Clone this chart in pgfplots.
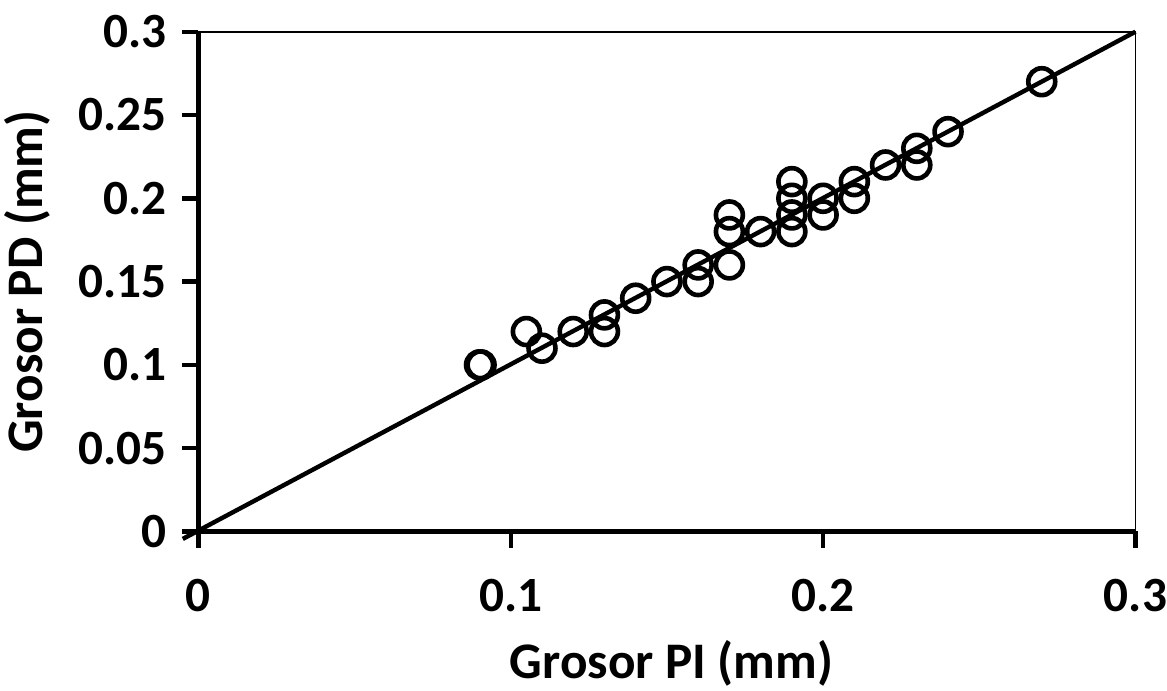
\documentclass[border=0pt]{standalone}
\usepackage{fontspec}
\setmainfont{Carlito}
\usepackage{pgfplots}
\pgfplotsset{compat=1.18}
\begin{document}
\fontsize{23}{27}\selectfont\bfseries
\begin{tikzpicture}
\begin{axis}[
  scale only axis,
  width=466pt, height=248.5pt,
  xmin=0, xmax=0.3, ymin=0, ymax=0.3,
  xtick={0,0.1,0.2,0.3},
  ytick={0,0.05,0.1,0.15,0.2,0.25,0.3},
  xticklabels={0,0.1,0.2,0.3},
  yticklabels={0,0.05,0.1,0.15,0.2,0.25,0.3},
  xtick pos=bottom, ytick pos=left,
  tick align=outside,
  major tick length=8pt,
  tick style={line width=2.2pt, black},
  axis line style={line width=0.8pt},
  xticklabel style={font=\fontsize{24.5}{28}\selectfont\bfseries, yshift=-8pt, inner xsep=0pt},
  yticklabel style={font=\fontsize{24.5}{28}\selectfont\bfseries},
  xlabel={Grosor PI (mm)},
  ylabel={Grosor PD (mm)},
  xlabel style={font=\fontsize{25.5}{29}\selectfont\bfseries, at={(axis description cs:0.505,-0.265)}, anchor=center, inner ysep=2pt},
  ylabel style={font=\fontsize{25.5}{29}\selectfont\bfseries, at={(axis description cs:-0.183,0.5)}, anchor=center, rotate=0, inner ysep=2pt},
  clip=false,
]
\draw[line width=2.2pt] (rel axis cs:0,1) -- (rel axis cs:0,0) -- (rel axis cs:1,0);
\addplot[line width=2.2pt, black] coordinates {(-0.005,-0.0045) (0.3,0.3)};
\addplot[only marks, mark=o, mark size=6.7pt, mark options={line width=2.3pt, black}] coordinates {
(0.09,0.10) (0.0905,0.1)
(0.105,0.12) (0.11,0.11) (0.12,0.12)
(0.13,0.13) (0.13,0.12)
(0.14,0.14) (0.15,0.15)
(0.16,0.16) (0.16,0.15)
(0.17,0.19) (0.17,0.18) (0.17,0.16)
(0.18,0.18)
(0.19,0.21) (0.19,0.20) (0.19,0.19) (0.19,0.18)
(0.20,0.20) (0.20,0.19)
(0.21,0.21) (0.21,0.20)
(0.22,0.22)
(0.23,0.23) (0.23,0.22)
(0.24,0.24)
(0.27,0.27)
};
\end{axis}
\end{tikzpicture}
\end{document}
